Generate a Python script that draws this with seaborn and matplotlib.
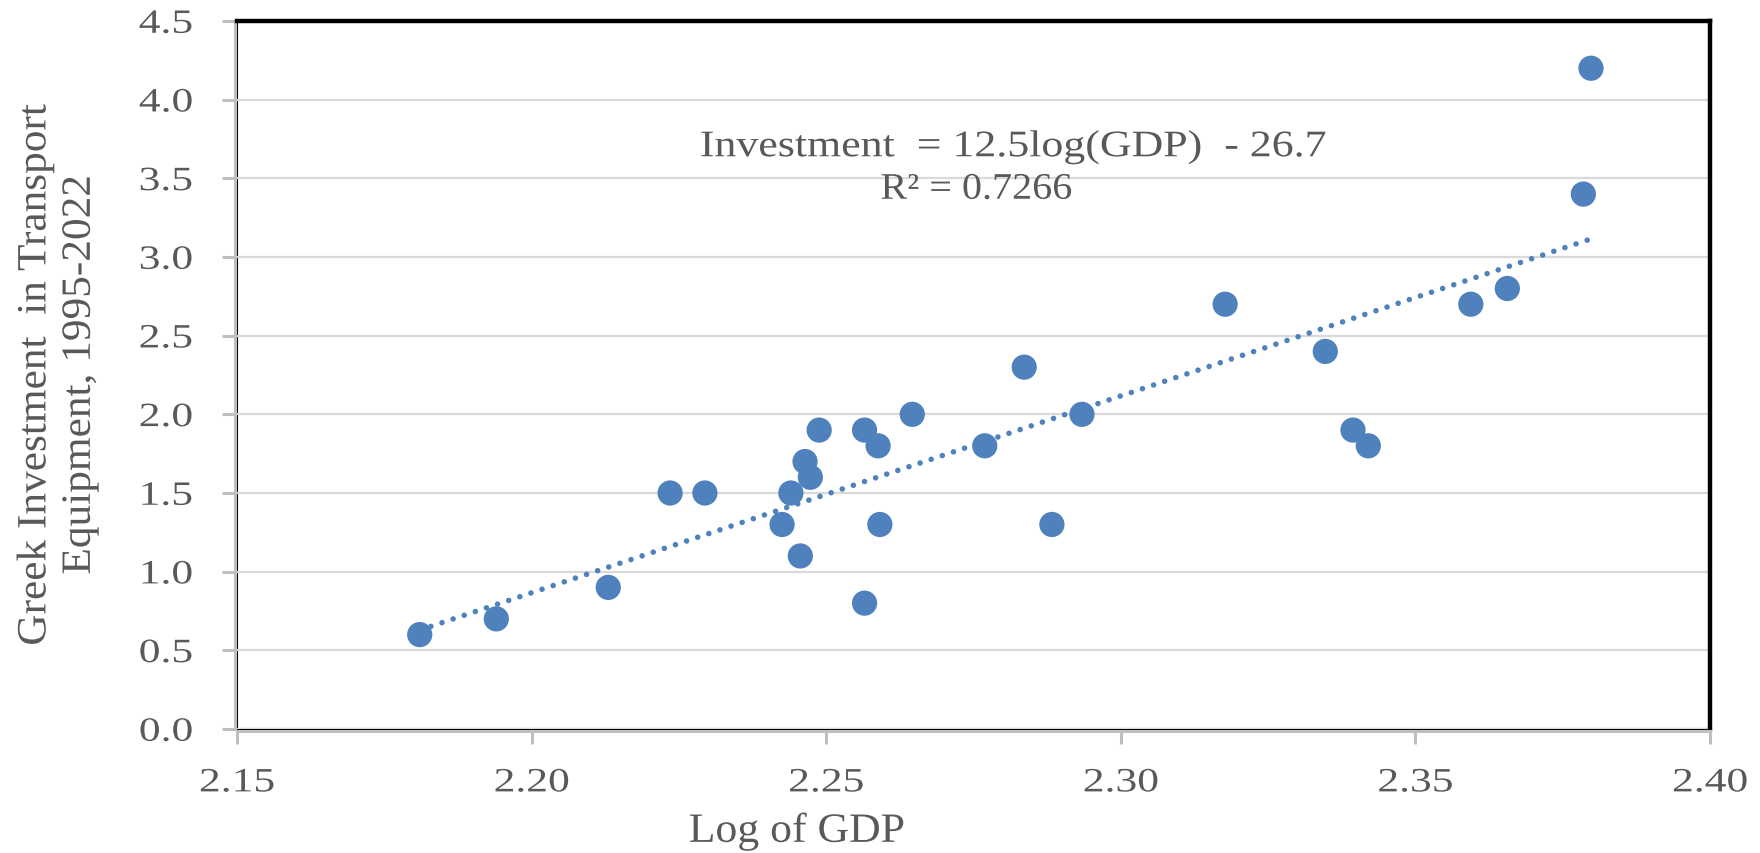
import numpy as np
import pandas as pd
import matplotlib
matplotlib.use("Agg")
import matplotlib.pyplot as plt
from matplotlib.patheffects import AbstractPathEffect
from matplotlib.transforms import Affine2D
import seaborn as sns

# Log of GDP and investment in transport equipment, 1995-2022
log_gdp = [2.181, 2.194, 2.213, 2.2235, 2.2294, 2.2425, 2.244, 2.2456, 2.2464, 2.2473,
           2.2488, 2.2565, 2.2565, 2.2588, 2.2591, 2.2646, 2.2769, 2.2836, 2.2883, 2.2934,
           2.3177, 2.3347, 2.3394, 2.342, 2.3594, 2.3656, 2.3785, 2.3798]
investment = [0.6, 0.7, 0.9, 1.5, 1.5, 1.3, 1.5, 1.1, 1.7, 1.6,
              1.9, 1.9, 0.8, 1.8, 1.3, 2.0, 1.8, 2.3, 1.3, 2.0,
              2.7, 2.4, 1.9, 1.8, 2.7, 2.8, 3.4, 4.2]

x_ticks = [2.15, 2.20, 2.25, 2.30, 2.35, 2.40]
y_ticks = [0.0, 0.5, 1.0, 1.5, 2.0, 2.5, 3.0, 3.5, 4.0, 4.5]

equation_text = "Investment  = 12.5log(GDP)  - 26.7"
r2_text = "R\u00b2 = 0.7266"
x_label = "Log of GDP"
y_label = "Greek Investment  in Transport\nEquipment, 1995-2022"

df = pd.DataFrame({"log_gdp": log_gdp, "investment": investment})

sns.set_theme(style="white")
plt.rcParams["font.family"] = ["Liberation Serif", "DejaVu Serif"]

blue = "#4F81BD"
text_grey = "#595959"
axis_grey = "#BFBFBF"
grid_grey = "#D9D9D9"


class WideText(AbstractPathEffect):
    """Draw text glyphs widened along the baseline, keeping the aligned edge fixed."""

    def __init__(self, sx, anchor):
        super().__init__()
        self.sx = sx
        self.anchor = anchor

    def draw_path(self, renderer, gc, tpath, affine, rgbFace=None):
        ext = tpath.get_extents()
        x0 = ext.x0 + self.anchor * ext.width
        widen = Affine2D().translate(-x0, 0).scale(self.sx, 1.0).translate(x0, 0)
        renderer.draw_path(gc, tpath, widen + affine, rgbFace)


fig = plt.figure(figsize=(17.6, 8.54), dpi=100)
ax = fig.add_axes([0.1347, 0.1452, 0.8369, 0.829])

ax.set_xlim(x_ticks[0], x_ticks[-1])
ax.set_ylim(y_ticks[0], y_ticks[-1])
ax.set_xticks(x_ticks)
ax.set_yticks(y_ticks)
ax.set_xticklabels([f"{v:.2f}" for v in x_ticks])
ax.set_yticklabels([f"{v:.1f}" for v in y_ticks])

ax.yaxis.grid(True, color=grid_grey, linewidth=1.6, zorder=0)
ax.xaxis.grid(False)
ax.set_axisbelow(True)

# linear trend line across the data range, dotted
sns.regplot(data=df, x="log_gdp", y="investment", ax=ax, scatter=False, ci=None,
            truncate=True,
            line_kws=dict(color=blue, linewidth=4.0, linestyle=(0, (0.01, 2.1)),
                          dash_capstyle="round", zorder=2))

sns.scatterplot(data=df, x="log_gdp", y="investment", ax=ax, s=330, color=blue,
                marker="o", edgecolor="none", linewidth=0, zorder=3)

# frame: black plot-area border, heavier on top/right, grey axis lines
ax.patch.set_edgecolor("black")
ax.patch.set_linewidth(1.5)
for side in ("top", "right"):
    ax.spines[side].set_color("black")
    ax.spines[side].set_linewidth(3.2)
for side in ("left", "bottom"):
    ax.spines[side].set_color(axis_grey)
    ax.spines[side].set_linewidth(2.2)
    ax.spines[side].set_position(("outward", 1.5))

ax.tick_params(axis="both", which="major", direction="out", color=axis_grey,
               width=2.2, length=9.5, labelsize=24.5, labelcolor=text_grey)
ax.tick_params(axis="y", pad=21, left=True)
ax.tick_params(axis="x", pad=17, bottom=True)

for lab in ax.get_xticklabels():
    lab.set_path_effects([WideText(1.28, 0.5)])
for lab in ax.get_yticklabels():
    lab.set_path_effects([WideText(1.28, 1.0)])

ax.set_xlabel(x_label, fontsize=30, color=text_grey)
ax.xaxis.set_label_coords(0.38, -0.117)
ax.xaxis.label.set_path_effects([WideText(1.05, 0.5)])
ax.set_ylabel(y_label, fontsize=30, color=text_grey, linespacing=1.2)
ax.yaxis.label.set_horizontalalignment("center")
ax.yaxis.label.set_verticalalignment("center")
ax.yaxis.set_label_coords(-0.122, 0.5)
ax.yaxis.label.set_path_effects([WideText(1.04, 0.5)])

eq = ax.text(0.527, 0.809, equation_text, transform=ax.transAxes, ha="center",
             va="baseline", fontsize=27, color=text_grey)
r2 = ax.text(0.502, 0.749, r2_text, transform=ax.transAxes, ha="center",
             va="baseline", fontsize=27, color=text_grey)
eq.set_path_effects([WideText(1.17, 0.5)])
r2.set_path_effects([WideText(1.07, 0.5)])

fig.savefig("out.png", dpi=100)
